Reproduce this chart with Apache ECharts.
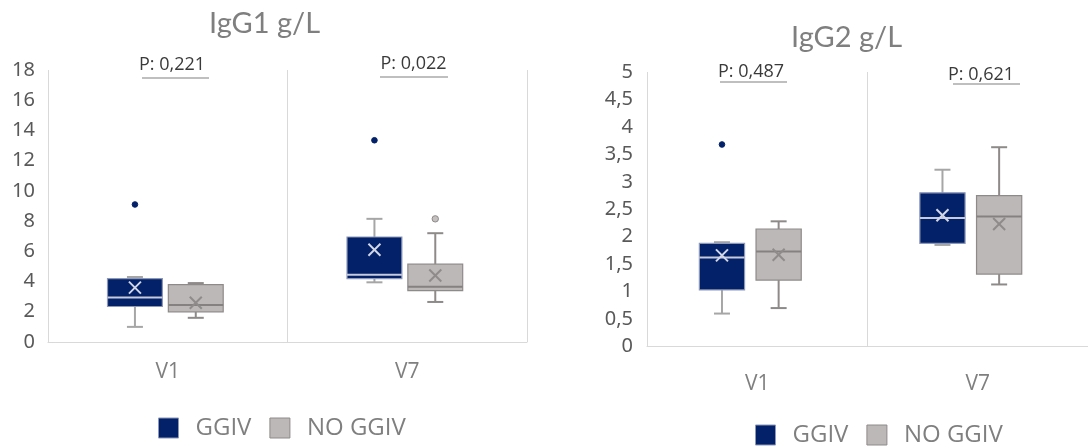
<!DOCTYPE html>
<html>
<head>
<meta charset="utf-8">
<script src="https://cdn.jsdelivr.net/npm/echarts@6/dist/echarts.min.js"></script>
<style>
  html, body { margin: 0; padding: 0; background: #ffffff; }
  #chart { width: 1088px; height: 448px; }
</style>
</head>
<body>
<div id="chart"></div>
<script>
// Visits on the category axis and the two patient groups
const visits = ['V1', 'V7'];
const groups = ['GGIV', 'NO GGIV'];

// Box summaries per visit: [min, q1, median, q3, max, mean]
const igg1Ggiv   = [[1.0, 2.35, 2.95, 4.2, 4.3, 3.6], [3.95, 4.2, 4.45, 6.95, 8.15, 6.1]];
const igg1NoGgiv = [[1.6, 2.0, 2.45, 3.8, 3.9, 2.6], [2.65, 3.4, 3.65, 5.15, 7.2, 4.4]];
const igg2Ggiv   = [[0.6, 1.03, 1.62, 1.88, 1.9, 1.66], [1.85, 1.88, 2.34, 2.8, 3.22, 2.39]];
const igg2NoGgiv = [[0.7, 1.21, 1.73, 2.14, 2.28, 1.67], [1.13, 1.32, 2.37, 2.75, 3.63, 2.23]];

// Outliers: [visit index, value]
const igg1GgivOut   = [[0, 9.1], [1, 13.35]];
const igg1NoGgivOut = [[1, 8.15]];
const igg2GgivOut   = [[0, 3.68]];
const igg2NoGgivOut = [];

// P values between groups at each visit
const igg1PValues = ['P: 0,221', 'P: 0,022'];
const igg2PValues = ['P: 0,487', 'P: 0,621'];

// Axis ranges
const igg1Axis = { min: 0, max: 18, interval: 2 };
const igg2Axis = { min: 0, max: 5, interval: 0.5 };

const NAVY = '#022169';
const GREY = '#bcb8b8';
const textGrey = '#7f7f7f';

const styles = {
  'GGIV':    { fill: NAVY, stroke: '#8d97b8', whisker: '#a6a6a6', median: '#c7cbdc', mark: '#d3d7e6' },
  'NO GGIV': { fill: GREY, stroke: '#8e8a8a', whisker: '#8e8a8a', median: '#858181', mark: '#8f8b8b' }
};

function boxRenderer(offsetFrac, widthFrac, st) {
  return function (params, api) {
    const cat = api.value(0);
    const band = api.size([1, 0])[0];
    const cx = api.coord([cat, 0])[0] + offsetFrac * band;
    const w = widthFrac * band;
    const y = (v) => api.coord([cat, v])[1];
    const yMin = y(api.value(1)), yQ1 = y(api.value(2)), yMed = y(api.value(3));
    const yQ3 = y(api.value(4)), yMax = y(api.value(5)), yMean = y(api.value(6));
    const cap = 8, s = 6;
    const line = (x1, y1, x2, y2, color, lw) => ({
      type: 'line', shape: { x1, y1, x2, y2 }, style: { stroke: color, lineWidth: lw }
    });
    return {
      type: 'group',
      children: [
        line(cx, yMax, cx, yQ3, st.whisker, 2),
        line(cx - cap, yMax, cx + cap, yMax, st.whisker, 2),
        line(cx, yQ1, cx, yMin, st.whisker, 2),
        line(cx - cap, yMin, cx + cap, yMin, st.whisker, 2),
        { type: 'rect', shape: { x: cx - w / 2, y: yQ3, width: w, height: yQ1 - yQ3 },
          style: { fill: st.fill, stroke: st.stroke, lineWidth: 1.2 } },
        line(cx - w / 2, yMed, cx + w / 2, yMed, st.median, 2),
        line(cx - s, yMean - s, cx + s, yMean + s, st.mark, 2),
        line(cx - s, yMean + s, cx + s, yMean - s, st.mark, 2)
      ]
    };
  };
}

function outlierRenderer(offsetFrac, fill, stroke, r) {
  return function (params, api) {
    const cat = api.value(0);
    const band = api.size([1, 0])[0];
    const p = api.coord([cat, api.value(1)]);
    return {
      type: 'circle',
      shape: { cx: p[0] + offsetFrac * band, cy: p[1], r },
      style: { fill, stroke, lineWidth: 1 }
    };
  };
}

function boxData(rows) {
  return rows.map((r, i) => [i].concat(r));
}

function panelSeries(idx, ggiv, noGgiv, ggivOut, noGgivOut, offs, widthFrac) {
  return [
    { name: groups[0], type: 'custom', xAxisIndex: idx, yAxisIndex: idx,
      itemStyle: { color: NAVY },
      renderItem: boxRenderer(offs[0], widthFrac, styles['GGIV']),
      encode: { x: 0, y: [1, 2, 3, 4, 5, 6] }, data: boxData(ggiv), z: 3 },
    { name: groups[1], type: 'custom', xAxisIndex: idx, yAxisIndex: idx,
      itemStyle: { color: GREY },
      renderItem: boxRenderer(offs[1], widthFrac, styles['NO GGIV']),
      encode: { x: 0, y: [1, 2, 3, 4, 5, 6] }, data: boxData(noGgiv), z: 3 },
    { name: groups[0], type: 'custom', xAxisIndex: idx, yAxisIndex: idx,
      renderItem: outlierRenderer(offs[0], NAVY, NAVY, 2.8),
      encode: { x: 0, y: 1 }, data: ggivOut, z: 4 },
    { name: groups[1], type: 'custom', xAxisIndex: idx, yAxisIndex: idx,
      renderItem: outlierRenderer(offs[1], '#c4c0c0', '#8e8a8a', 3.2),
      encode: { x: 0, y: 1 }, data: noGgivOut, z: 4 }
  ];
}

const commaFmt = (v) => String(v).replace('.', ',');

function xAxisFor(idx, margin) {
  return {
    type: 'category', gridIndex: idx, data: visits, boundaryGap: true,
    axisLine: { lineStyle: { color: '#d9d9d9', width: 1 } },
    axisTick: { show: false },
    splitLine: { show: true, lineStyle: { color: '#d9d9d9', width: 1 } },
    axisLabel: { color: textGrey, fontSize: 21, fontFamily: 'Open Sans', margin }
  };
}

function yAxisFor(idx, range, margin) {
  return {
    type: 'value', gridIndex: idx, min: range.min, max: range.max, interval: range.interval,
    axisLine: { show: false }, axisTick: { show: false }, splitLine: { show: false },
    axisLabel: { color: '#595959', fontSize: 20, fontFamily: 'Noto Sans', margin, formatter: commaFmt }
  };
}

const legendData = [
  { name: groups[0], itemStyle: { color: NAVY, borderColor: '#8d97b8', borderWidth: 1 } },
  { name: groups[1], itemStyle: { color: GREY, borderColor: '#8e8a8a', borderWidth: 1 } }
];

function legendAt(left, top) {
  return {
    left, top, orient: 'horizontal', icon: 'rect', itemWidth: 20, itemHeight: 20, itemGap: 18,
    selectedMode: false, data: legendData,
    textStyle: { color: textGrey, fontSize: 24, fontFamily: 'Open Sans', padding: [0, 0, 0, 12] }
  };
}

function pLabel(text, cx, cy, x1, x2, ly) {
  return [
    { type: 'text', style: { text, x: cx, y: cy, align: 'center', verticalAlign: 'middle',
      font: '18px "Open Sans"', fill: '#3a3a3a' } },
    { type: 'line', shape: { x1, y1: ly, x2, y2: ly }, style: { stroke: '#bfbfbf', lineWidth: 2 } }
  ];
}

const chart = echarts.init(document.getElementById('chart'), null, { renderer: 'canvas' });

chart.setOption({
  animation: false,
  backgroundColor: '#ffffff',
  title: [
    { text: 'IgG1 g/L', left: 204, top: 4,
      textStyle: { color: textGrey, fontSize: 29, fontWeight: 'normal', fontFamily: 'Lato' } },
    { text: 'IgG2 g/L', left: 786, top: 18,
      textStyle: { color: textGrey, fontSize: 29, fontWeight: 'normal', fontFamily: 'Lato' } }
  ],
  legend: [legendAt(153, 411), legendAt(750, 418)],
  grid: [
    { left: 48, right: 561, top: 70, bottom: 106 },
    { left: 647, right: -8, top: 72, bottom: 101.5 }
  ],
  xAxis: [xAxisFor(0, 20), xAxisFor(1, 27)],
  yAxis: [yAxisFor(0, igg1Axis, 13), yAxisFor(1, igg2Axis, 14)],
  series: [].concat(
    panelSeries(0, igg1Ggiv, igg1NoGgiv, igg1GgivOut, igg1NoGgivOut, [-0.137, 0.117], 0.229),
    panelSeries(1, igg2Ggiv, igg2NoGgiv, igg2GgivOut, igg2NoGgivOut, [-0.16, 0.097], 0.205)
  ),
  graphic: [].concat(
    pLabel(igg1PValues[0], 172, 64.5, 142, 209, 78),
    pLabel(igg1PValues[1], 413.5, 64, 380, 448, 77),
    pLabel(igg2PValues[0], 751, 71.5, 720, 787, 82),
    pLabel(igg2PValues[1], 981, 74.5, 953, 1020, 84)
  )
});
</script>
</body>
</html>
